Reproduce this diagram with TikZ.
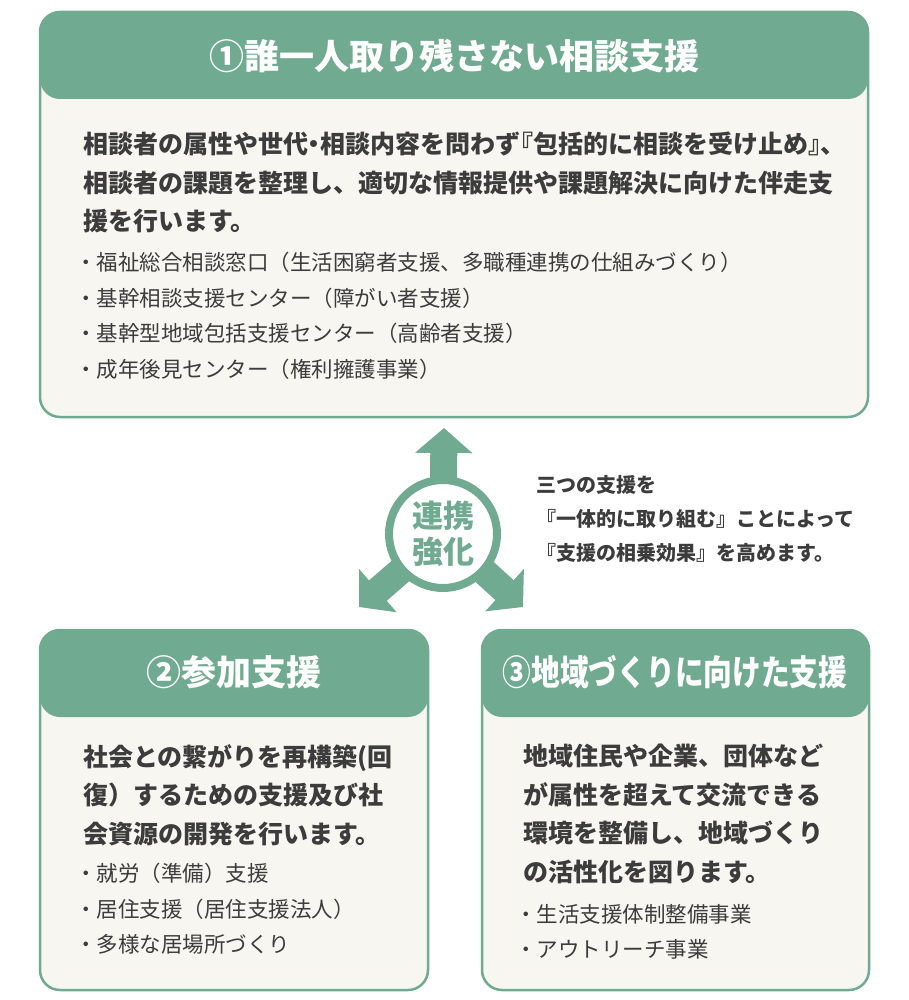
\documentclass[tikz,border=0pt]{standalone}
\usepackage{fontspec}
\setmainfont{Noto Sans CJK JP}
\newfontfamily\halfjp[RawFeature=+halt]{Noto Sans CJK JP}
\usetikzlibrary{positioning}
\usetikzlibrary{arrows.meta}
\definecolor{panelgreen}{RGB}{111,170,145}
\definecolor{panelbg}{RGB}{247,246,241}
\definecolor{textgray}{RGB}{60,60,60}
\tikzstyle{panel} = [rectangle, inner sep=0pt, draw=panelgreen, line width=2.5pt, rounded corners=20pt, fill=panelbg, path picture={\fill[panelgreen] (path picture bounding box.north west) rectangle ([yshift=-87pt]path picture bounding box.north east);}]
\tikzstyle{title} = [inner sep=0pt, text=white, font=\fontsize{35}{40}\selectfont\bfseries]
\tikzstyle{lead} = [anchor=north west, inner sep=0pt, align=left, text=textgray, font=\fontsize{25}{38.5}\selectfont\bfseries]
\tikzstyle{items} = [anchor=north west, inner sep=0pt, align=left, text=textgray, font=\fontsize{21.5}{35.5}\selectfont]
\tikzstyle{bigarrow} = [line width=27pt, draw=panelgreen, -{Triangle[length=25pt, width=56pt]}]

\begin{document}
\begin{tikzpicture}[x=1pt, y=-1pt]
\useasboundingbox (0,0) rectangle (909,1000);
% panels
\node (sodan) [panel, minimum width=828pt, minimum height=405pt] at (454,214.5) {};
\node (sanka) [panel, minimum width=388pt, minimum height=360pt] at (234,810) {};
\node (chiiki) [panel, minimum width=387pt, minimum height=360pt] at (675.5,810) {};
\node (sodan-title) [title] at (454,56) {①誰一人取り残さない相談支援};
\node (sanka-title) [title] at (234,672) {②参加支援};
\node (chiiki-title) [title] at (675,672) {\scalebox{0.82}[1]{③地域づくりに向けた支援}};
% panel texts
\node (sodan-lead) [lead] at (83,132) {\halfjp\bfseries 相談者の属性や世代・相談内容を問わず『包括的に相談を受け止め』、\\相談者の課題を整理し、適切な情報提供や課題解決に向けた伴走支\\援を行います。};
\node (sodan-items) [items] at (75,252) {・福祉総合相談窓口（生活困窮者支援、多職種連携の仕組みづくり）\\・基幹相談支援センター（障がい者支援）\\・基幹型地域包括支援センター（高齢者支援）\\・成年後見センター（権利擁護事業）};
\node (sanka-lead) [lead] at (83,744) {社会との繋がりを再構築(回\\復）するための支援及び社\\会資源の開発を行います。};
\node (sanka-items) [items] at (75,863) {・就労（準備）支援\\・居住支援（居住支援法人）\\・多様な居場所づくり};
\node (chiiki-lead) [lead] at (523,744) {地域住民や企業、団体など\\が属性を超えて交流できる\\環境を整備し、地域づくり\\の活性化を図ります。};
\node (chiiki-items) [items] at (515,904) {・生活支援体制整備事業\\・アウトリーチ事業};
% hub
\coordinate (hubc) at (443,534);
\coordinate (up-tip) at (444,428);
\coordinate (left-tip) at (359,607);
\coordinate (right-tip) at (523,607);
\draw[bigarrow] (hubc) -- (up-tip);
\draw[bigarrow] (hubc) -- (left-tip);
\draw[bigarrow] (hubc) -- (right-tip);
\node (hub) [circle, inner sep=0pt, minimum size=108pt, draw=panelgreen, line width=8pt, fill=white, align=center, text=panelgreen, font=\fontsize{31}{36}\selectfont\bfseries] at (hubc) {連携\\強化};
\node (effect) [anchor=north west, inner sep=0pt, align=left, text=textgray, font=\fontsize{20}{34}\selectfont\bfseries] at (536,475) {三つの支援を\\『一体的に取り組む』ことによって\\『支援の相乗効果』を高めます。};
\end{tikzpicture}
\end{document}
